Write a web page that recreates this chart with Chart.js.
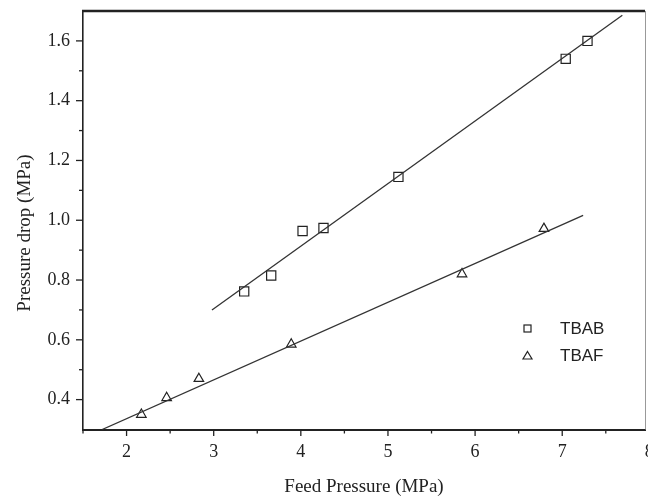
<!DOCTYPE html>
<html>
<head>
<meta charset="utf-8">
<script src="https://cdn.jsdelivr.net/npm/chart.js@4.4.1/dist/chart.umd.min.js"></script>
<style>
  html, body { margin: 0; background: #fff; }
  #wrap { width: 648px; height: 498px; }
</style>
</head>
<body>
<div id="wrap"><canvas id="myChart"></canvas></div>
<script>
// measured points
const feedTBAB = [3.35, 3.66, 4.02, 4.26, 5.12, 7.04, 7.29]
const dropTBAB = [0.762, 0.815, 0.964, 0.974, 1.145, 1.54, 1.60]
const feedTBAF = [2.17, 2.46, 2.83, 3.89, 5.85, 6.79]
const dropTBAF = [0.35, 0.406, 0.47, 0.585, 0.82, 0.972]

// linear fits (end points)
const fitFeedTBAB = [2.98, 7.69]
const fitDropTBAB = [0.70, 1.686]
const fitFeedTBAF = [1.72, 7.24]
const fitDropTBAF = [0.30, 1.016]

const xTickValues = [2, 3, 4, 5, 6, 7, 8]
const yTickValues = [0.4, 0.6, 0.8, 1.0, 1.2, 1.4, 1.6]

const ink = '#222'
const serif = 'Liberation Serif'

const pts = (xs, ys) => xs.map((v, i) => ({ x: v, y: ys[i] }))

// no extra room for the end labels, the frame is set by layout.padding
const noEdgePadding = (s) => {
  s.paddingTop = 0
  s.paddingBottom = 0
  s.paddingLeft = 0
  s.paddingRight = 0
}

// ticks, frame, axis titles and the legend box drawn on top
const decorations = {
  id: 'decorations',
  afterDraw(chart) {
    const { ctx, chartArea: a, scales: { x, y } } = chart
    ctx.save()
    ctx.strokeStyle = ink
    ctx.lineWidth = 1.3

    // x ticks every 0.5, long ones on integers
    for (let k = 3; k <= 16; k++) {
      const v = k / 2
      if (v > x.max) break
      const px = x.getPixelForValue(v)
      ctx.beginPath()
      ctx.moveTo(px, a.bottom)
      ctx.lineTo(px, a.bottom + (k % 2 === 0 ? 6.5 : 4))
      ctx.stroke()
    }
    // y ticks every 0.1
    for (let k = 4; k <= 16; k++) {
      const py = y.getPixelForValue(k / 10)
      ctx.beginPath()
      ctx.moveTo(a.left, py)
      ctx.lineTo(a.left - (k % 2 === 0 ? 7 : 4), py)
      ctx.stroke()
    }

    // frame
    ctx.lineWidth = 2.4
    ctx.beginPath()
    ctx.moveTo(a.left - 1, a.top)
    ctx.lineTo(a.right, a.top)
    ctx.stroke()
    ctx.strokeStyle = '#999'
    ctx.lineWidth = 1
    ctx.beginPath()
    ctx.moveTo(a.right + 0.5, a.top)
    ctx.lineTo(a.right + 0.5, a.bottom)
    ctx.stroke()

    // "8" sits just past the right edge
    ctx.fillStyle = ink
    ctx.font = '18px ' + serif
    ctx.textAlign = 'center'
    ctx.textBaseline = 'middle'
    ctx.fillText('8', x.getPixelForValue(8), 452)

    // axis titles
    ctx.font = '19px ' + serif
    ctx.fillText('Feed Pressure (MPa)', (a.left + a.right) / 2, 487)
    ctx.save()
    ctx.translate(25, 233)
    ctx.rotate(-Math.PI / 2)
    ctx.fillText('Pressure drop (MPa)', 0, 0)
    ctx.restore()

    // legend
    ctx.strokeStyle = ink
    ctx.lineWidth = 1.2
    ctx.strokeRect(524, 325, 7, 7)
    ctx.beginPath()
    ctx.moveTo(527.5, 351.5)
    ctx.lineTo(532, 359)
    ctx.lineTo(523, 359)
    ctx.closePath()
    ctx.stroke()
    ctx.font = '17px Liberation Sans'
    ctx.textAlign = 'left'
    ctx.fillText('TBAB', 560, 329)
    ctx.fillText('TBAF', 560, 356)
    ctx.restore()
  }
}

const context = document.getElementById('myChart')

const myChart = new Chart(context, {
  type: 'scatter',
  data: {
    datasets: [
      {
        label: 'TBAB fit',
        data: pts(fitFeedTBAB, fitDropTBAB),
        showLine: true,
        borderColor: '#333',
        borderWidth: 1.3,
        pointRadius: 0
      },
      {
        label: 'TBAF fit',
        data: pts(fitFeedTBAF, fitDropTBAF),
        showLine: true,
        borderColor: '#333',
        borderWidth: 1.3,
        pointRadius: 0
      },
      {
        label: 'TBAB',
        data: pts(feedTBAB, dropTBAB),
        pointStyle: 'rect',
        pointRadius: 6.5,
        borderColor: ink,
        borderWidth: 1.2,
        backgroundColor: 'transparent'
      },
      {
        label: 'TBAF',
        data: pts(feedTBAF, dropTBAF),
        pointStyle: 'triangle',
        pointRadius: 5.5,
        borderColor: ink,
        borderWidth: 1.2,
        backgroundColor: 'transparent'
      }
    ]
  },
  options: {
    responsive: true,
    maintainAspectRatio: false,
    animation: false,
    layout: { autoPadding: false, padding: { top: 11, right: 3, left: 0, bottom: 0 } },
    plugins: {
      legend: { display: false },
      tooltip: { enabled: false }
    },
    scales: {
      x: {
        type: 'linear',
        min: 1.5,
        max: 7.95,
        afterBuildTicks: (s) => { s.ticks = xTickValues.filter(v => v <= s.max).map(v => ({ value: v })) },
        ticks: {
          autoSkip: false,
          maxRotation: 0,
          padding: 12,
          color: ink,
          font: { family: serif, size: 18 }
        },
        grid: { display: false, drawTicks: false },
        border: { color: ink, width: 2 },
        afterFit: (s) => { s.height = 68.5; noEdgePadding(s) }
      },
      y: {
        type: 'linear',
        min: 0.3,
        max: 1.7,
        afterBuildTicks: (s) => { s.ticks = yTickValues.map(v => ({ value: v })) },
        ticks: {
          autoSkip: false,
          padding: 13,
          color: ink,
          font: { family: serif, size: 18 },
          callback: (v) => Number(v).toFixed(1)
        },
        grid: { display: false, drawTicks: false },
        border: { color: ink, width: 1.6 },
        afterFit: (s) => { s.width = 83; noEdgePadding(s) }
      }
    }
  },
  plugins: [decorations]
})
</script>
</body>
</html>
